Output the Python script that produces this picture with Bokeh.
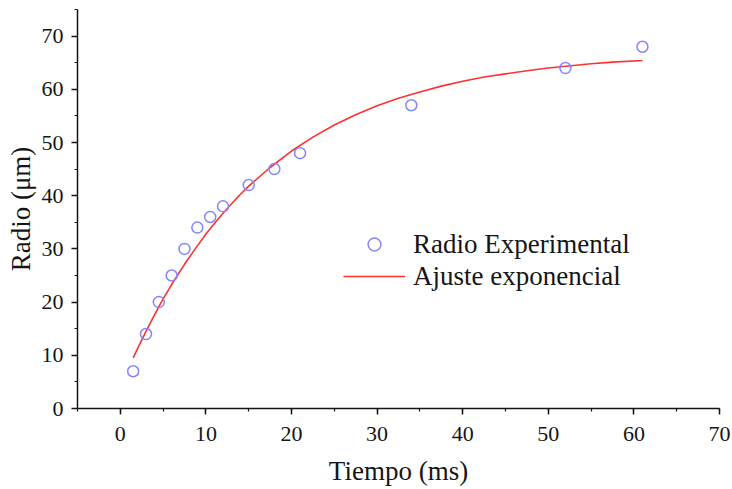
from bokeh.plotting import figure
from bokeh.models import SingleIntervalTicker, Legend, LegendItem, Range1d
from bokeh.embed import file_html
from bokeh.resources import INLINE

# Experimental data
tiempo = [1.5, 3.0, 4.5, 6.0, 7.5, 9.0, 10.5, 12.0, 15.0, 18.0, 21.0, 34.0, 52.0, 61.0]
radio = [7.0, 14.0, 20.0, 25.0, 30.0, 34.0, 36.0, 38.0, 42.0, 45.0, 48.0, 57.0, 64.0, 68.0]

# Exponential fit curve
fit_t = [1.5, 2.0, 3.0, 4.0, 5.0, 6.0, 7.5, 8.75, 10.0, 11.25, 12.5, 13.75, 15.0, 17.5,
         20.0, 22.5, 25.0, 27.5, 30.0, 32.5, 35.0, 37.5, 40.0, 42.5, 45.0, 47.5, 50.0,
         55.0, 57.5, 61.0]
fit_r = [9.5, 11.2, 14.5, 17.6, 20.6, 23.3, 27.1, 30.0, 32.8, 35.3, 37.6, 39.8, 41.8, 45.3,
         48.4, 51.0, 53.3, 55.2, 56.9, 58.3, 59.5, 60.6, 61.5, 62.3, 62.9, 63.5, 64.0,
         64.8, 65.1, 65.4]

FONT = "Liberation Serif"
INK = "#151515"

p = figure(width=732, height=488, output_backend="svg", toolbar_location=None,
           x_range=Range1d(-5, 70), y_range=Range1d(0, 75))
p.min_border_left = 77
p.min_border_right = 13
p.min_border_top = 9
p.min_border_bottom = 80
p.outline_line_color = None
p.xgrid.grid_line_color = None
p.ygrid.grid_line_color = None

r_fit = p.line(fit_t, fit_r, line_color="#ff3030", line_width=1.6, line_join="round")
r_pts = p.scatter(tiempo, radio, marker="circle", size=11, fill_color=None,
                  line_color="#8585ff", line_width=1.5)

p.xaxis.ticker = SingleIntervalTicker(interval=10, num_minor_ticks=2)
p.yaxis.ticker = SingleIntervalTicker(interval=10, num_minor_ticks=2)

for ax in (p.xaxis[0], p.yaxis[0]):
    ax.axis_line_color = INK
    ax.axis_line_width = 1.5
    ax.major_tick_line_color = INK
    ax.major_tick_line_width = 1.5
    ax.minor_tick_line_color = INK
    ax.minor_tick_line_width = 1.2
    ax.major_tick_out = 6
    ax.major_tick_in = 0
    ax.minor_tick_out = 3
    ax.minor_tick_in = 0
    ax.major_label_text_font = FONT
    ax.major_label_text_font_size = "22px"
    ax.major_label_text_color = INK
    ax.axis_label_text_font = FONT
    ax.axis_label_text_font_size = "27px"
    ax.axis_label_text_font_style = "normal"
    ax.axis_label_text_color = INK

p.xaxis.major_label_standoff = 12
p.xaxis.axis_label_standoff = 12
p.yaxis.major_label_standoff = 8
p.yaxis.axis_label_standoff = 3

p.xaxis.axis_label = "Tiempo (ms)"
p.yaxis.axis_label = "Radio (μm)"

legend = Legend(items=[LegendItem(label="Radio Experimental", renderers=[r_pts]),
                       LegendItem(label="Ajuste exponencial", renderers=[r_fit])],
                location=(266, 116), padding=0, margin=0, spacing=0,
                glyph_width=62, glyph_height=32, label_height=32, label_standoff=8,
                border_line_color=None, background_fill_alpha=0,
                label_text_font=FONT, label_text_font_size="27px",
                label_text_color=INK)
p.add_layout(legend)

open("out.html", "w").write(file_html(p, INLINE))
